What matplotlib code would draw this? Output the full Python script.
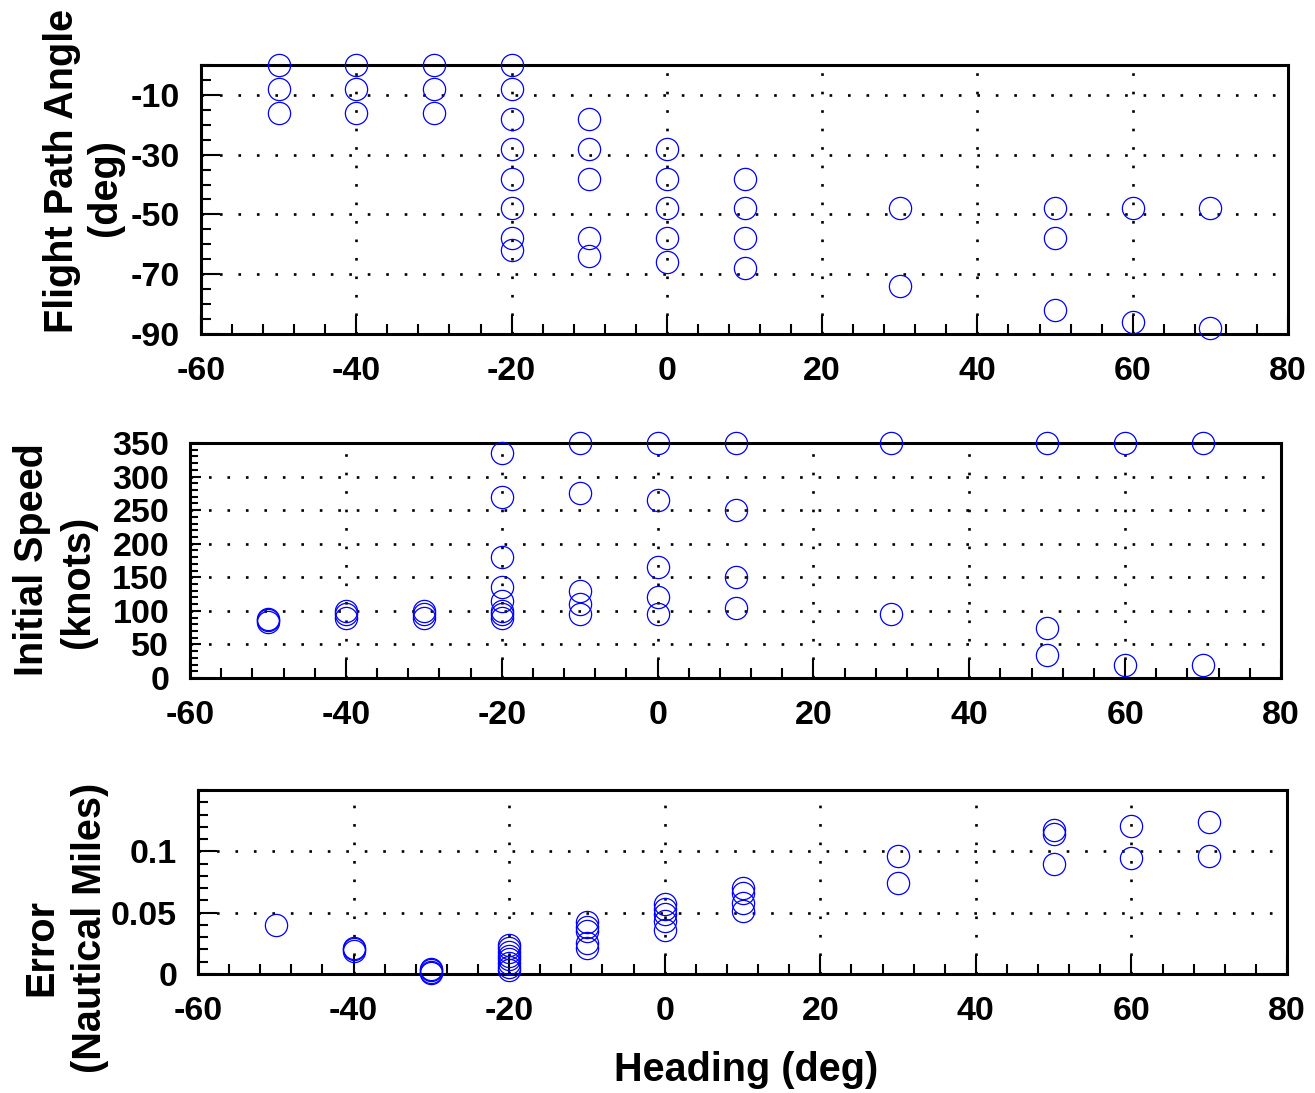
import numpy as np
import matplotlib
matplotlib.use("Agg")
import matplotlib.pyplot as plt
from matplotlib.ticker import MultipleLocator

plt.rcParams['font.family'] = ['Liberation Sans', 'DejaVu Sans']
plt.rcParams['font.weight'] = 'bold'
plt.rcParams['axes.unicode_minus'] = False

# Flight path angle vs heading
fpa_heading = [-50, -50, -50,
               -40, -40, -40,
               -30, -30, -30,
               -20, -20, -20, -20, -20, -20, -20, -20,
               -10, -10, -10, -10, -10,
               0, 0, 0, 0, 0,
               10, 10, 10, 10,
               30, 30,
               50, 50, 50,
               60, 60,
               70, 70]
fpa_deg = [0, -8, -16,
           0, -8, -16,
           0, -8, -16,
           0, -8, -18, -28, -38, -48, -58, -62,
           -18, -28, -38, -58, -64,
           -28, -38, -48, -58, -66,
           -38, -48, -58, -68,
           -48, -74,
           -48, -58, -82,
           -48, -86,
           -48, -88]

# Initial speed vs heading
spd_heading = [-50, -50, -50,
               -40, -40, -40,
               -30, -30, -30,
               -20, -20, -20, -20, -20, -20, -20, -20,
               -10, -10, -10, -10, -10,
               0, 0, 0, 0, 0,
               10, 10, 10, 10,
               30, 30,
               50, 50, 50,
               60, 60,
               70, 70]
spd_knots = [84, 86, 88,
             90, 95, 100,
             90, 95, 100,
             335, 270, 180, 135, 115, 100, 95, 90,
             350, 275, 130, 110, 95,
             350, 265, 165, 120, 95,
             350, 250, 150, 105,
             350, 95,
             350, 75, 35,
             350, 20,
             350, 20]

# Error vs heading
err_heading = [-50,
               -40, -40, -40,
               -30, -30, -30, -30,
               -20, -20, -20, -20, -20, -20, -20, -20,
               -10, -10, -10, -10, -10,
               0, 0, 0, 0, 0,
               10, 10, 10, 10,
               30, 30,
               50, 50, 50,
               60, 60,
               70, 70]
err_nm = [0.040,
          0.019, 0.020, 0.021,
          0.001, 0.002, 0.003, 0.004,
          0.003, 0.006, 0.009, 0.012, 0.015, 0.018, 0.021, 0.024,
          0.042, 0.038, 0.035, 0.025, 0.021,
          0.057, 0.053, 0.049, 0.043, 0.036,
          0.070, 0.066, 0.058, 0.051,
          0.096, 0.0745,
          0.117, 0.114, 0.090,
          0.121, 0.0946,
          0.124, 0.096]

W, H = 1315, 1093
fig = plt.figure(figsize=(W / 100, H / 100), dpi=100)


def px_axes(l, t, r, b):
    return fig.add_axes([l / W, 1 - b / H, (r - l) / W, (b - t) / H])


def style(ax, ymaj, ymin, ylen=(14, 7)):
    ax.set_xlim(-60, 80)
    ax.xaxis.set_major_locator(MultipleLocator(20))
    ax.xaxis.set_minor_locator(MultipleLocator(4))
    ax.yaxis.set_minor_locator(MultipleLocator(ymin))
    ax.set_yticks(ymaj)
    ax.tick_params(axis='both', which='both', direction='in', top=False, right=False,
                   width=1.5, labelsize=24.5)
    ax.tick_params(axis='x', which='major', length=14, pad=16)
    ax.tick_params(axis='x', which='minor', length=7)
    ax.tick_params(axis='y', which='major', length=ylen[0], pad=15)
    ax.tick_params(axis='y', which='minor', length=ylen[1])
    for s in ax.spines.values():
        s.set_linewidth(2.2)
    ax.grid(True, which='major', color='black', linestyle=(0, (1, 6)), linewidth=1.9)
    for lab in ax.get_xticklabels() + ax.get_yticklabels():
        lab.set_fontweight('bold')


mk = dict(marker='o', linestyle='none', markersize=16, markerfacecolor='none',
          markeredgecolor='#0000ff', markeredgewidth=0.9, clip_on=False, zorder=5)

ax1 = px_axes(201, 65, 1288, 334)
ax1.plot(fpa_heading, fpa_deg, **mk)
ax1.set_ylim(-90, 0)
style(ax1, [-90, -70, -50, -30, -10], 5)

ax2 = px_axes(190, 443, 1281, 678)
ax2.plot(spd_heading, spd_knots, **mk)
ax2.set_ylim(0, 350)
style(ax2, np.arange(0, 351, 50), 10, ylen=(8, 6))

ax3 = px_axes(198, 790, 1287, 974)
ax3.plot(err_heading, err_nm, **mk)
ax3.set_ylim(0, 0.15)
style(ax3, [0, 0.05, 0.1], 0.01)
ax3.set_yticklabels(['0', '0.05', '0.1'])

lab = dict(rotation=90, ha='center', va='center', fontsize=28.5, fontweight='bold')
fig.text(62 / W, 1 - 171 / H, 'Flight Path Angle', **lab)
fig.text(105 / W, 1 - 187 / H, '(deg)', **lab)
fig.text(32 / W, 1 - 560 / H, 'Initial Speed', **lab)
fig.text(78 / W, 1 - 582 / H, '(knots)', **lab)
fig.text(41 / W, 1 - 948 / H, 'Error', **lab)
fig.text(90 / W, 1 - 928 / H, '(Nautical Miles)', **lab)
fig.text(746 / W, 1 - 1070 / H, 'Heading (deg)', ha='center', va='center',
         fontsize=28.5, fontweight='bold')

fig.savefig('out.png', dpi=100)
